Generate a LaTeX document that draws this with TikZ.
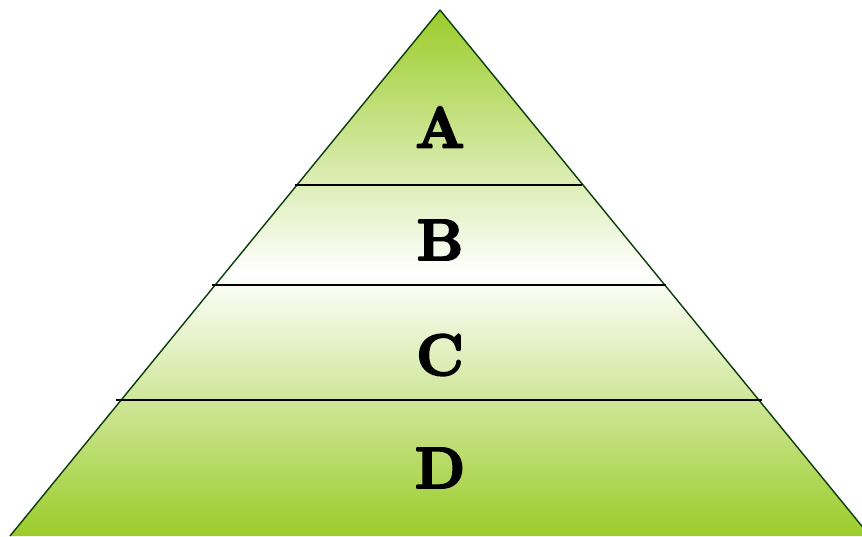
\documentclass[tikz,border=0pt]{standalone}
\definecolor{leaf}{RGB}{155,204,42}
\definecolor{rim}{RGB}{10,60,10}
% heavier letters: fill and stroke the glyphs
\newcommand{\heavy}[1]{\special{pdf:literal direct 2 Tr 2.2 w}#1\special{pdf:literal direct 0 Tr}}
\begin{document}
\begin{tikzpicture}[x=1pt,y=1pt,line join=round,font=\bfseries\fontsize{58}{60}\selectfont]
\tikzset{layer/.style={draw=black,line width=1.7pt},
  tag/.style={inner sep=0pt,text=black}}
\useasboundingbox (0,0) rectangle (862,536);
\begin{scope}
\clip (0,0) rectangle (862,536);
\shade[top color=leaf,bottom color=leaf,middle color=white,shading angle=0]
  (10,0)--(440,526)--(870,0)--cycle;
\draw[rim,line width=1.4pt] (10,0)--(440,526)--(870,0);
\end{scope}
\coordinate (ab-l) at (295,351); \coordinate (ab-r) at (582,351);
\coordinate (bc-l) at (212,251); \coordinate (bc-r) at (666,251);
\coordinate (cd-l) at (116,136); \coordinate (cd-r) at (762,136);
\draw[layer] (ab-l)--(ab-r);
\draw[layer] (bc-l)--(bc-r);
\draw[layer] (cd-l)--(cd-r);
\node[tag] (a) at (440,409) {\heavy{A}};
\node[tag] (b) at (440,296) {\heavy{B}};
\node[tag] (c) at (440,181) {\heavy{C}};
\node[tag] (d) at (440,68) {\heavy{D}};
\end{tikzpicture}
\end{document}
